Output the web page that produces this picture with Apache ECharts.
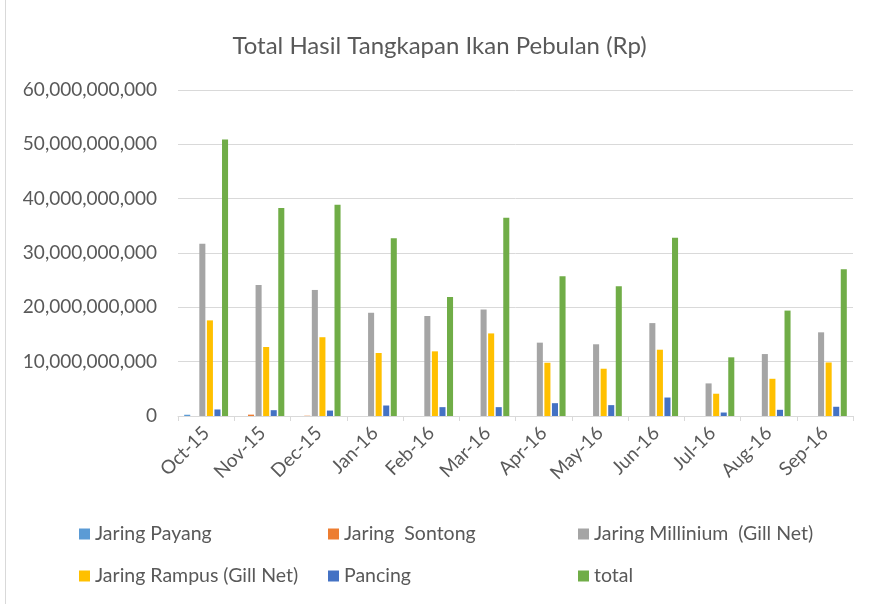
<!DOCTYPE html>
<html>
<head>
<meta charset="utf-8">
<script src="https://cdn.jsdelivr.net/npm/echarts@6/dist/echarts.min.js"></script>
<style>
html,body{margin:0;padding:0;background:#fff;}
#c{width:879px;height:604px;}
</style>
</head>
<body>
<div id="c"></div>
<script>
const categories = ['Oct-15','Nov-15','Dec-15','Jan-16','Feb-16','Mar-16','Apr-16','May-16','Jun-16','Jul-16','Aug-16','Sep-16'];
const seriesNames = ['Jaring Payang','Jaring  Sontong','Jaring Millinium  (Gill Net)','Jaring Rampus (Gill Net)','Pancing','total'];
const jaringPayang = [230000000, 0, 0, 0, 0, 0, 0, 0, 0, 0, 0, 0];
const jaringSontong = [0, 250000000, 50000000, 0, 0, 0, 0, 0, 0, 0, 0, 0];
const jaringMillinium = [31700000000, 24100000000, 23200000000, 19000000000, 18400000000, 19600000000, 13500000000, 13200000000, 17100000000, 6000000000, 11400000000, 15400000000];
const jaringRampus = [17600000000, 12700000000, 14500000000, 11600000000, 11900000000, 15200000000, 9800000000, 8700000000, 12200000000, 4100000000, 6850000000, 9850000000];
const pancing = [1200000000, 1070000000, 1000000000, 1930000000, 1630000000, 1630000000, 2360000000, 2000000000, 3400000000, 640000000, 1140000000, 1700000000];
const total = [50900000000, 38300000000, 38900000000, 32700000000, 21900000000, 36500000000, 25700000000, 23900000000, 32800000000, 10800000000, 19400000000, 27000000000];
const yTicks = {min: 0, max: 60000000000, interval: 10000000000};

const colors = ['#5B9BD5','#ED7D31','#A5A5A5','#FFC000','#4472C4','#70AD47'];
const seriesData = [jaringPayang, jaringSontong, jaringMillinium, jaringRampus, pancing, total];
const FONT = 'Lato';
const TXT = '#595959';

const chart = echarts.init(document.getElementById('c'));
const legendPos = [[79,524],[328,524],[578,524],[79,566],[328,566],[578,566]];
const legends = seriesNames.map((n,i)=>({
  data:[n], left:legendPos[i][0], top:legendPos[i][1],
  icon:'rect', itemWidth:11, itemHeight:11, itemGap:6,
  padding:0,
  textStyle:{color:TXT, fontFamily:FONT, fontSize:19.5, padding:[0,0,0,0]},
  selectedMode:false
}));

chart.setOption({
  animation:false,
  color:colors,
  title:{
    text:'Total Hasil Tangkapan Ikan Pebulan (Rp)',
    left:'center', top:29,
    textStyle:{color:TXT, fontFamily:FONT, fontSize:24, fontWeight:'normal'}
  },
  legend:legends,
  grid:{left:178, right:26, top:90, bottom:188, containLabel:false},
  xAxis:{
    type:'category', data:categories,
    axisLine:{lineStyle:{color:'#D9D9D9', width:1}},
    axisTick:{show:true, length:5, lineStyle:{color:'#D9D9D9'}},
    axisLabel:{rotate:45, color:TXT, fontFamily:FONT, fontSize:19, margin:14, interval:0}
  },
  yAxis:{
    type:'value', min:yTicks.min, max:yTicks.max, interval:yTicks.interval,
    axisLine:{show:false}, axisTick:{show:false},
    splitLine:{lineStyle:{color:'#D9D9D9', width:1}},
    axisLabel:{color:TXT, fontFamily:FONT, fontSize:19, margin:21,
      formatter:v=>v.toLocaleString('en-US')}
  },
  graphic:[{type:'line', shape:{x1:5.5,y1:0,x2:5.5,y2:604}, style:{stroke:'#D9D9D9', lineWidth:1}, silent:true}],
  series:seriesData.map((d,i)=>({
    name:seriesNames[i], type:'bar', data:d,
    barCategoryGap:'22%', barGap:'25%',
    itemStyle:{color:colors[i]}
  }))
});
</script>
</body>
</html>
